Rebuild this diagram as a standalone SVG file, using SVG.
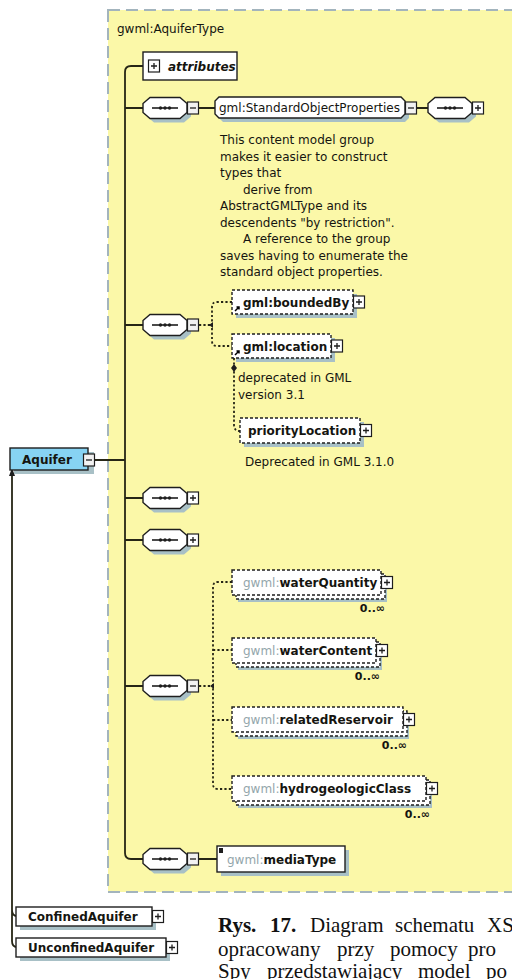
<svg xmlns="http://www.w3.org/2000/svg" width="512" height="979" viewBox="0 0 512 979">
<style>
 text{font-family:"DejaVu Sans",Verdana,sans-serif;font-size:12px;fill:#151510}
 .nm{font-weight:bold}
 .pfx{fill:#93a6ab;font-weight:normal}
 .box{fill:#fff;stroke:#1e1e1e;stroke-width:1.4}
 .opt{fill:#fff;stroke:#1e1e1e;stroke-width:1.4;stroke-dasharray:3 2}
 .sh{fill:#a8c0c6}
 .wire{fill:none;stroke:#262616;stroke-width:1.8}
 .dots{fill:none;stroke:#262616;stroke-width:1.8;stroke-dasharray:2.2 2.2}
 .occ{font-size:11px;font-weight:bold}
 .cap{font-family:"Liberation Serif","Times New Roman",serif;font-size:21px;fill:#111}
</style>
<defs>
 <g id="seq">
  <polygon class="sh" points="11,-6.5 41,-6.5 48,-0.5 48,8.5 41,14.5 11,14.5 4,8.5 4,-0.5"/>
  <polygon class="box" points="7,-10.5 37,-10.5 44,-4.5 44,4.5 37,10.5 7,10.5 0,4.5 0,-4.5"/>
  <path d="M9,0H35" stroke="#1e1e1e" stroke-width="1.6"/>
  <circle cx="17.5" cy="0" r="1.7" fill="#1e1e1e"/>
  <circle cx="22" cy="0" r="1.7" fill="#1e1e1e"/>
  <circle cx="26.5" cy="0" r="1.7" fill="#1e1e1e"/>
 </g>
 <g id="plus"><rect x="0.5" y="-6" width="11" height="12" fill="#fff" stroke="#1e1e1e" stroke-width="1.2"/><path d="M3,0H9M6,-3V3" stroke="#1e1e1e" stroke-width="1.3"/></g>
 <g id="minus"><rect x="0.5" y="-6" width="11" height="12" fill="#f2f2f2" stroke="#1e1e1e" stroke-width="1.2"/><path d="M3,0H9" stroke="#1e1e1e" stroke-width="1.3"/></g>
 <path id="ref" d="M0,5 L4,1 M1.5,1 H4 V3.5" fill="none" stroke="#000" stroke-width="1.5"/>
</defs>

<!-- complex type frame -->
<g id="AquiferType">
 <rect x="108" y="10" width="420" height="882" fill="#fbf8a8" stroke="#a3b4bd" stroke-width="2" stroke-dasharray="12 6"/>
 <text x="117" y="33" font-size="14" fill="#6f9191">gwml:AquiferType</text>
</g>

<!-- connectors -->
<g id="connectors">
 <path class="wire" d="M143,66 H131 Q125,66 125,72 V853 Q125,859 131,859 H143"/>
 <path class="wire" d="M125,108 H143 M125,325 H143 M125,498 H143 M125,540 H143 M125,686 H143 M95,460 H125"/>
 <path class="wire" d="M199,108 H215 M417,108 H428 M199,859 H217"/>
 <path class="dots" d="M199,325 H212 M232,302 H217 Q212,302 212,307 V341 Q212,346 217,346 H232"/>
 <path class="dots" d="M234,358 V425 Q234,431 240,431"/>
 <path d="M234,364 L237,368 L234,372 L231,368 Z" fill="#1e1e1e"/>
 <path class="dots" d="M199,686 H213 M232,582 H218 Q213,582 213,587 V784 Q213,789 218,789 H232 M213,650 H232 M213,720 H232"/>
 <path d="M209,325 l4,-3 v6 Z M210,686 l4,-3 v6 Z" fill="#1e1e1e"/>
 <path class="wire" d="M12,474 V941 Q12,947 17,947 M12,910 Q12,916 17,916" stroke-width="1.4"/>
 <polygon points="12,468 9,476 15,476" fill="#1e1e1e"/>
</g>

<g id="attributes">
 <rect class="box" x="143" y="52" width="94" height="28"/>
 <use href="#plus" x="148" y="66"/>
 <text x="168" y="70.5" font-size="10.5" font-weight="bold" font-style="italic">attributes</text>
</g>

<g id="seq1"><use href="#seq" x="143" y="108"/><use href="#minus" x="187" y="108"/></g>

<g id="StandardObjectProperties">
 <path class="sh" d="M223,101 H405 L409,105 V118 L405,122 H223 L219,118 V105 Z"/>
 <path class="box" d="M219,97 H401 L405,101 V114 L401,118 H219 L215,114 V101 Z"/>
 <text x="219" y="112">gml:StandardObjectProperties</text>
 <use href="#minus" x="405" y="108"/>
 <use href="#seq" x="428" y="108"/>
 <use href="#plus" x="472" y="108"/>
 <text>
  <tspan x="220" y="144">This content model group</tspan>
  <tspan x="220" y="161">makes it easier to construct</tspan>
  <tspan x="220" y="177">types that</tspan>
  <tspan x="243" y="194">derive from</tspan>
  <tspan x="220" y="210">AbstractGMLType and its</tspan>
  <tspan x="220" y="227">descendents "by restriction".</tspan>
  <tspan x="243" y="243">A reference to the group</tspan>
  <tspan x="220" y="260">saves having to enumerate the</tspan>
  <tspan x="220" y="276">standard object properties.</tspan>
 </text>
</g>

<g id="choice1"><use href="#seq" x="143" y="325"/><use href="#minus" x="187" y="325"/></g>

<g id="boundedBy">
 <rect class="sh" x="236" y="294" width="121" height="24"/>
 <rect class="opt" x="232" y="290" width="121" height="24"/>
 <use href="#ref" x="235" y="306"/>
 <text x="243" y="306.5" class="nm">gml:boundedBy</text>
 <use href="#plus" x="353" y="302"/>
</g>

<g id="location">
 <rect class="sh" x="236" y="338" width="99" height="24"/>
 <rect class="opt" x="232" y="334" width="99" height="24"/>
 <use href="#ref" x="235" y="350"/>
 <text x="243" y="350.5" class="nm">gml:location</text>
 <use href="#plus" x="331" y="346"/>
 <text x="238" y="382">deprecated in GML</text>
 <text x="238" y="399">version 3.1</text>
</g>

<g id="priorityLocation">
 <rect class="sh" x="244" y="422" width="120" height="25"/>
 <rect class="opt" x="240" y="418" width="120" height="25"/>
 <text x="248" y="435" class="nm">priorityLocation</text>
 <use href="#plus" x="360" y="430.5"/>
 <text x="245" y="466">Deprecated in GML 3.1.0</text>
</g>

<g id="Aquifer">
 <rect class="sh" x="14" y="452" width="80" height="22"/>
 <rect x="10" y="448" width="78" height="22" fill="#87d3f3" stroke="#1e1e1e" stroke-width="1.4"/>
 <text x="22" y="463.5" class="nm">Aquifer</text>
 <use href="#minus" x="83" y="460"/>
</g>

<g id="seq2"><use href="#seq" x="143" y="498"/><use href="#plus" x="187" y="498"/></g>
<g id="seq3"><use href="#seq" x="143" y="540"/><use href="#plus" x="187" y="540"/></g>

<g id="choice2"><use href="#seq" x="143" y="686"/><use href="#minus" x="187" y="686"/></g>

<g id="waterQuantity">
 <rect class="sh" x="238" y="577" width="149" height="25"/>
 <rect class="opt" x="236" y="574" width="149" height="25"/>
 <rect class="opt" x="232" y="570" width="149" height="25"/>
 <text x="243" y="586.5"><tspan class="pfx">gwml:</tspan><tspan class="nm">waterQuantity</tspan></text>
 <use href="#plus" x="381" y="582.5"/>
 <text x="385" y="612" class="occ" text-anchor="end">0..∞</text>
</g>

<g id="waterContent">
 <rect class="sh" x="238" y="645" width="144" height="25"/>
 <rect class="opt" x="236" y="642" width="144" height="25"/>
 <rect class="opt" x="232" y="638" width="144" height="25"/>
 <text x="243" y="654.5"><tspan class="pfx">gwml:</tspan><tspan class="nm">waterContent</tspan></text>
 <use href="#plus" x="376" y="650.5"/>
 <text x="380" y="680" class="occ" text-anchor="end">0..∞</text>
</g>

<g id="relatedReservoir">
 <rect class="sh" x="238" y="714" width="171" height="25"/>
 <rect class="opt" x="236" y="711" width="171" height="25"/>
 <rect class="opt" x="232" y="707" width="171" height="25"/>
 <text x="243" y="723.5"><tspan class="pfx">gwml:</tspan><tspan class="nm">relatedReservoir</tspan></text>
 <use href="#plus" x="403" y="719.5"/>
 <text x="407" y="749" class="occ" text-anchor="end">0..∞</text>
</g>

<g id="hydrogeologicClass">
 <rect class="sh" x="238" y="783" width="194" height="25"/>
 <rect class="opt" x="236" y="780" width="194" height="25"/>
 <rect class="opt" x="232" y="776" width="194" height="25"/>
 <text x="243" y="792.5"><tspan class="pfx">gwml:</tspan><tspan class="nm">hydrogeologicClass</tspan></text>
 <use href="#plus" x="426" y="788.5"/>
 <text x="430" y="818" class="occ" text-anchor="end">0..∞</text>
</g>

<g id="seq4"><use href="#seq" x="143" y="859"/><use href="#minus" x="187" y="859"/></g>

<g id="mediaType">
 <rect class="sh" x="221" y="850" width="128" height="26"/>
 <rect class="box" x="217" y="846" width="128" height="26"/>
 <rect x="219" y="848" width="4" height="5" fill="#1e1e1e"/>
 <text x="227" y="863.5"><tspan class="pfx">gwml:</tspan><tspan class="nm">mediaType</tspan></text>
</g>

<g id="ConfinedAquifer">
 <rect class="sh" x="20" y="911" width="136" height="19"/>
 <rect class="box" x="16" y="907" width="136" height="19"/>
 <text x="28" y="920.5" class="nm">ConfinedAquifer</text>
 <use href="#plus" x="152" y="916.5"/>
</g>

<g id="UnconfinedAquifer">
 <rect class="sh" x="20" y="942" width="150" height="19"/>
 <rect class="box" x="16" y="938" width="150" height="19"/>
 <text x="28" y="951.5" class="nm">UnconfinedAquifer</text>
 <use href="#plus" x="166" y="947.5"/>
</g>

<g id="caption">
 <text class="cap" y="932"><tspan x="218" font-weight="bold">Rys.</tspan><tspan x="270" font-weight="bold">17.</tspan><tspan x="310">Diagram</tspan><tspan x="395">schematu</tspan><tspan x="487">XS</tspan></text>
 <text class="cap" y="956"><tspan x="218">opracowany</tspan><tspan x="337">przy</tspan><tspan x="390">pomocy</tspan><tspan x="468">pro</tspan></text>
 <text class="cap" y="978"><tspan x="218">Spy</tspan><tspan x="267">przedstawiający</tspan><tspan x="418">model</tspan><tspan x="486">po</tspan></text>
</g>
</svg>
